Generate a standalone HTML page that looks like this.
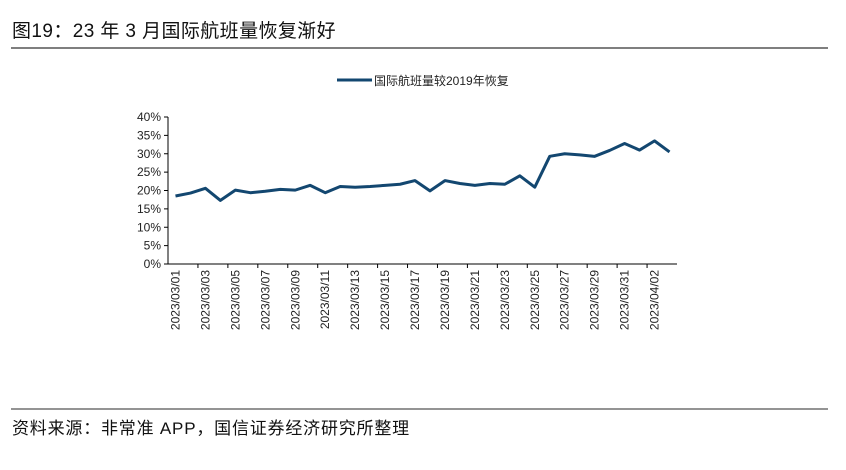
<!DOCTYPE html>
<html><head><meta charset="utf-8"><style>
body{margin:0;background:#fff;width:846px;height:465px;overflow:hidden;font-family:"Liberation Sans","Noto Sans CJK SC",sans-serif}
</style></head><body>
<svg width="846" height="465" xmlns="http://www.w3.org/2000/svg">
<text x="12" y="37" font-size="19" letter-spacing="0.4" fill="#111" font-family="Liberation Sans,Noto Sans CJK SC,sans-serif">图19：23 年 3 月国际航班量恢复渐好</text>
<line x1="11" y1="48" x2="828" y2="48" stroke="#555" stroke-width="1.5"/>
<g>
<line x1="337" y1="80" x2="372" y2="80" stroke="#134770" stroke-width="3"/>
<text x="374" y="85" font-size="12" fill="#222">国际航班量较2019年恢复</text>
</g>
<g id="axes"></g>
<line x1="11" y1="409" x2="828" y2="409" stroke="#555" stroke-width="1.2"/>
<text x="12" y="434" font-size="17" letter-spacing="0.8" fill="#111">资料来源：非常准 APP，国信证券经济研究所整理</text>
</svg>
<script>
const categories=["2023/03/01","2023/03/02","2023/03/03","2023/03/04","2023/03/05","2023/03/06","2023/03/07","2023/03/08","2023/03/09","2023/03/10","2023/03/11","2023/03/12","2023/03/13","2023/03/14","2023/03/15","2023/03/16","2023/03/17","2023/03/18","2023/03/19","2023/03/20","2023/03/21","2023/03/22","2023/03/23","2023/03/24","2023/03/25","2023/03/26","2023/03/27","2023/03/28","2023/03/29","2023/03/30","2023/03/31","2023/04/01","2023/04/02","2023/04/03"];
const values=[18.5,19.3,20.6,17.3,20.1,19.4,19.8,20.3,20.1,21.4,19.4,21.1,20.9,21.1,21.4,21.7,22.7,19.9,22.7,21.9,21.4,21.9,21.7,24.0,20.9,29.3,30.0,29.7,29.3,30.9,32.8,31.0,33.5,30.5];
const yTicks=[0,5,10,15,20,25,30,35,40];
const NS="http://www.w3.org/2000/svg";
const g=document.getElementById('axes');
const x0=168,x1=677,yb=264,yt=117;
const bw=(x1-x0)/categories.length;
const X=i=>x0+bw*(i+0.5);
const Y=v=>yb-(v/40)*(yb-yt);
function mk(t,a){const e=document.createElementNS(NS,t);for(const k in a)e.setAttribute(k,a[k]);g.appendChild(e);return e;}
const ya=mk('line',{x1:x0,y1:yt,x2:x0,y2:yb,stroke:'#000','stroke-width':1});


yTicks.forEach(v=>{
 const t=mk('line',{x1:x0-4,y1:Y(v),x2:x0,y2:Y(v),stroke:'#000'});
 
 
 const l=mk('text',{x:x0-7,y:Y(v)+4,'font-size':12,'text-anchor':'end',fill:'#222'});
 l.textContent=v+'%';
 
 
});
const xa=mk('line',{x1:x0,y1:yb,x2:x1,y2:yb,stroke:'#000'});


categories.forEach((c,i)=>{
 if(i%2===0&&i>0){const t=mk('line',{x1:x0+bw*i,y1:yb,x2:x0+bw*i,y2:yb+4,stroke:'#000'});
 
 }
 if(i%2===0){
 const l=mk('text',{x:0,y:0,'font-size':12,'text-anchor':'end',fill:'#222',transform:`translate(${X(i)+4},${yb+6}) rotate(-90)`});
 l.textContent=c;
 
 }
});
const p=mk('polyline',{points:values.map((v,i)=>X(i)+','+Y(v)).join(' '),fill:'none',stroke:'#134770','stroke-width':3,'stroke-linejoin':'round'});


</script>
</body></html>
